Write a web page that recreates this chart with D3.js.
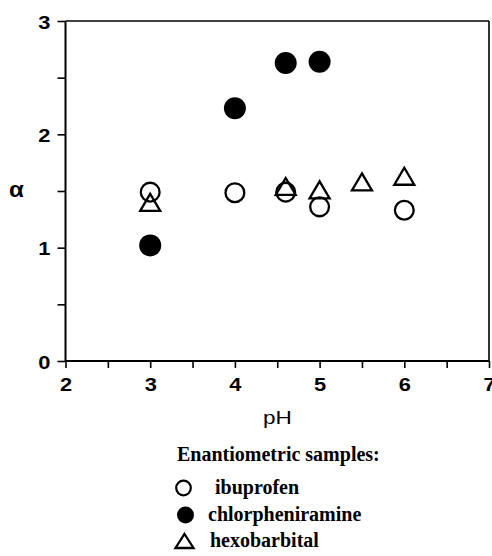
<!DOCTYPE html>
<html>
<head>
<meta charset="utf-8">
<script src="https://cdn.jsdelivr.net/npm/d3@7/dist/d3.min.js"></script>
<style>
  html, body { margin: 0; padding: 0; background: #fff; }
  svg { display: block; }
</style>
</head>
<body>
<svg id="chart" width="492" height="556"></svg>
<script>
// ---- data ----
const xTicks = [2, 2.5, 3, 3.5, 4, 4.5, 5, 5.5, 6, 6.5, 7];
const yTicks = [0, 0.5, 1, 1.5, 2, 2.5, 3];
const ibuprofenPH = [3, 4, 4.6, 5, 6];
const ibuprofenAlpha = [1.49, 1.485, 1.49, 1.36, 1.33];
const chlorPH = [3, 4, 4.6, 5];
const chlorAlpha = [1.02, 2.23, 2.63, 2.64];
const hexoPH = [3, 4.6, 5, 5.5, 6];
const hexoAlpha = [1.40, 1.54, 1.51, 1.58, 1.63];
const legendTitle = "Enantiometric samples:";
const legendNames = ["ibuprofen", "chlorpheniramine", "hexobarbital"];
const legendKinds = ["open", "filled", "triangle"];

const svg = d3.select("#chart");
const x = d3.scaleLinear().domain([2, 7]).range([65.5, 489]);
const y = d3.scaleLinear().domain([0, 3]).range([361, 21]);

const sans = "'Liberation Sans', Arial, Helvetica, sans-serif";
const serif = "'Liberation Serif', 'Times New Roman', Times, serif";

// frame (top & right)
svg.append("line").attr("x1", x(2)).attr("x2", x(7)).attr("y1", y(3)).attr("y2", y(3))
  .attr("stroke", "#000").attr("stroke-width", 1.6);
svg.append("line").attr("x1", x(7)).attr("x2", x(7)).attr("y1", y(3)).attr("y2", y(0))
  .attr("stroke", "#000").attr("stroke-width", 1.6);

// axes
const xAxis = d3.axisBottom(x).tickValues(xTicks).tickSize(7)
  .tickFormat(d => Number.isInteger(d) ? d : "");
const yAxis = d3.axisLeft(y).tickValues(yTicks).tickSize(8)
  .tickFormat(d => Number.isInteger(d) ? d : "");

const gx = svg.append("g").attr("transform", `translate(0,${y(0)})`).call(xAxis);
const gy = svg.append("g").attr("transform", `translate(${x(2)},0)`).call(yAxis);

[gx, gy].forEach(g => {
  g.select(".domain").attr("stroke", "#000").attr("stroke-width", 2);
  g.selectAll(".tick line").attr("stroke", "#000").attr("stroke-width", 1.6);
  g.selectAll(".tick text").attr("fill", "#000")
    .style("font-family", sans).style("font-weight", "bold").style("font-size", "19px");
});
gx.select(".domain").attr("d", `M${x(2)},0H${x(7)}`);
gy.select(".domain").attr("d", `M0,${y(0)}V${y(3)}`);

gx.selectAll(".tick text").attr("y", 0).attr("dy", 0)
  .attr("transform", "translate(0,30) scale(1.15,1)");
gy.selectAll(".tick text").attr("x", 0).attr("dy", 0)
  .attr("text-anchor", "end")
  .attr("transform", "translate(-15,7) scale(1.15,1)");

// axis titles
svg.append("text").attr("transform", `translate(${(x(2) + x(7)) / 2},424) scale(1.25,1)`)
  .attr("text-anchor", "middle").style("font-family", sans).style("font-size", "18px")
  .text("pH");
svg.append("text").attr("transform", `translate(16.5,197) scale(1.1,1)`)
  .attr("text-anchor", "middle").style("font-family", sans).style("font-size", "22px")
  .style("font-weight", "bold").text("α");

// markers
const triPath = (cx, cy, w, h) =>
  `M${cx},${cy - h / 2}L${cx + w / 2},${cy + h / 2}L${cx - w / 2},${cy + h / 2}Z`;

const plot = svg.append("g");
plot.selectAll(".ibu").data(ibuprofenPH.map((p, i) => [p, ibuprofenAlpha[i]]))
  .join("circle").attr("class", "ibu")
  .attr("cx", d => x(d[0])).attr("cy", d => y(d[1])).attr("r", 9.4)
  .attr("fill", "none").attr("stroke", "#000").attr("stroke-width", 2.3);
plot.selectAll(".hexo").data(hexoPH.map((p, i) => [p, hexoAlpha[i]]))
  .join("path").attr("class", "hexo")
  .attr("d", d => triPath(x(d[0]), y(d[1]), 20, 17))
  .attr("fill", "none").attr("stroke", "#000").attr("stroke-width", 2.3)
  .attr("stroke-linejoin", "miter");
plot.selectAll(".chl").data(chlorPH.map((p, i) => [p, chlorAlpha[i]]))
  .join("circle").attr("class", "chl")
  .attr("cx", d => x(d[0])).attr("cy", d => y(d[1])).attr("r", 11)
  .attr("fill", "#000");

// legend
svg.append("text").attr("x", 177).attr("y", 461)
  .style("font-family", serif).style("font-weight", "bold").style("font-size", "20px")
  .text(legendTitle);
const legY = [488, 515, 541];
const legTextX = [215, 208, 210];
const leg = svg.append("g");
legendKinds.forEach((k, i) => {
  if (k === "open") {
    leg.append("circle").attr("cx", 183.5).attr("cy", legY[i]).attr("r", 7.3)
      .attr("fill", "none").attr("stroke", "#000").attr("stroke-width", 2.2);
  } else if (k === "filled") {
    leg.append("circle").attr("cx", 185.5).attr("cy", legY[i]).attr("r", 8.5).attr("fill", "#000");
  } else {
    leg.append("path").attr("d", triPath(184.5, legY[i], 18, 14))
      .attr("fill", "none").attr("stroke", "#000").attr("stroke-width", 2.3);
  }
  leg.append("text").attr("x", legTextX[i]).attr("y", legY[i] + 6)
    .style("font-family", serif).style("font-weight", "bold").style("font-size", "20px")
    .text(legendNames[i]);
});
</script>
</body>
</html>
